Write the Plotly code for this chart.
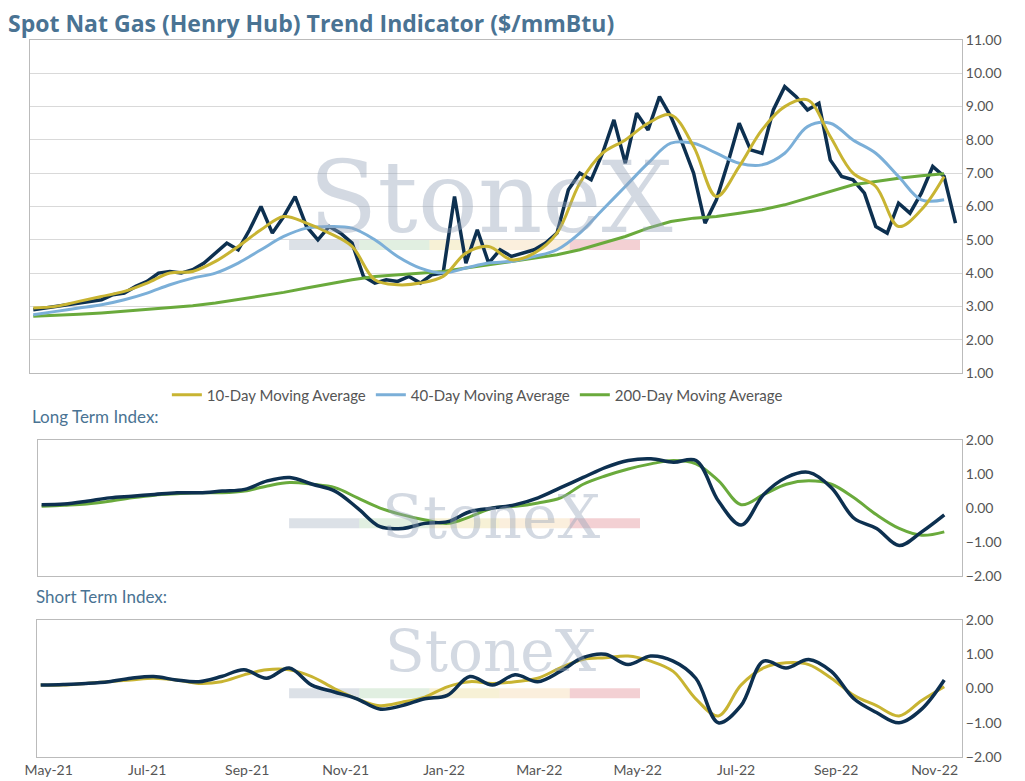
import pandas as pd
import plotly.graph_objects as go

# weekly spot price
spot_dates = pd.date_range("2021-04-26", periods=82, freq="7D")
spot = [2.9, 2.95, 3.0, 3.05, 3.1, 3.15, 3.2, 3.35, 3.4, 3.6, 3.75, 4.0, 4.05, 4.0,
        4.1, 4.3, 4.6, 4.9, 4.7, 5.3, 6.0, 5.2, 5.7, 6.3, 5.4, 5.0, 5.4, 5.2, 4.9,
        3.9, 3.7, 3.8, 3.75, 3.9, 3.7, 3.95, 4.0, 6.3, 4.3, 5.3, 4.3, 4.7, 4.5,
        4.6, 4.7, 4.9, 5.2, 6.5, 7.0, 6.8, 7.6, 8.6, 7.3, 8.8, 8.3, 9.3, 8.7, 7.9,
        7.0, 5.5, 6.2, 7.3, 8.5, 7.7, 7.6, 8.9, 9.6, 9.3, 8.9, 9.1, 7.4, 6.9, 6.8,
        6.4, 5.4, 5.2, 6.1, 5.8, 6.4, 7.2, 6.9, 5.5]

# bi-weekly moving averages and indexes
ma_dates = pd.date_range("2021-04-26", periods=41, freq="14D")
ma10 = [2.95, 3.0, 3.15, 3.3, 3.45, 3.7, 4.0, 4.05, 4.35, 4.8, 5.3, 5.7, 5.5, 5.2,
        4.8, 3.8, 3.65, 3.7, 3.9, 4.6, 4.8, 4.4, 4.6, 5.2, 6.7, 7.6, 8.0, 8.5, 8.75,
        7.8, 6.3, 7.2, 8.3, 9.0, 9.2, 8.1, 7.0, 6.6, 5.4, 5.9, 6.9]
ma40 = [2.75, 2.85, 2.95, 3.05, 3.2, 3.4, 3.65, 3.85, 4.0, 4.3, 4.7, 5.1, 5.35, 5.4,
        5.35, 5.0, 4.5, 4.15, 4.0, 4.15, 4.3, 4.35, 4.5, 4.7, 5.2, 5.9, 6.6, 7.3, 7.9,
        7.9, 7.6, 7.3, 7.25, 7.6, 8.4, 8.5, 8.0, 7.6, 6.9, 6.2, 6.2]
ma200 = [2.7, 2.72, 2.76, 2.8, 2.85, 2.9, 2.96, 3.02, 3.1, 3.2, 3.3, 3.42, 3.55, 3.68,
         3.8, 3.9, 3.95, 4.0, 4.05, 4.15, 4.25, 4.35, 4.45, 4.55, 4.7, 4.9, 5.1, 5.35,
         5.55, 5.65, 5.7, 5.8, 5.9, 6.05, 6.25, 6.45, 6.65, 6.75, 6.85, 6.92, 6.98]
long_idx = [0.1, 0.12, 0.2, 0.3, 0.35, 0.4, 0.45, 0.45, 0.5, 0.55, 0.8, 0.9, 0.7, 0.5,
            0.0, -0.55, -0.6, -0.45, -0.4, -0.1, 0.0, 0.1, 0.3, 0.6, 0.9, 1.2, 1.4,
            1.45, 1.35, 1.4, 0.2, -0.5, 0.4, 0.9, 1.05, 0.6, -0.3, -0.6, -1.1, -0.7, -0.2]
long_sig = [0.05, 0.08, 0.12, 0.2, 0.3, 0.38, 0.42, 0.45, 0.45, 0.5, 0.65, 0.75, 0.7,
            0.6, 0.3, 0.0, -0.2, -0.35, -0.45, -0.25, 0.0, 0.05, 0.15, 0.3, 0.7, 0.95,
            1.15, 1.3, 1.4, 1.3, 0.8, 0.1, 0.4, 0.7, 0.8, 0.7, 0.3, -0.2, -0.6, -0.8, -0.7]
short_idx = [0.1, 0.12, 0.15, 0.2, 0.3, 0.35, 0.25, 0.2, 0.35, 0.55, 0.3, 0.6, 0.1,
             -0.1, -0.3, -0.6, -0.5, -0.3, -0.2, 0.35, 0.1, 0.4, 0.2, 0.5, 0.9, 1.0,
             0.7, 0.95, 0.8, 0.3, -1.0, -0.5, 0.8, 0.6, 0.85, 0.5, -0.3, -0.7, -1.0,
             -0.6, 0.25]
short_sig = [0.1, 0.1, 0.15, 0.2, 0.25, 0.3, 0.25, 0.15, 0.2, 0.4, 0.55, 0.55, 0.35,
             0.0, -0.3, -0.5, -0.4, -0.25, 0.05, 0.2, 0.15, 0.2, 0.3, 0.6, 0.85, 0.9,
             0.95, 0.8, 0.5, -0.3, -0.8, 0.1, 0.6, 0.75, 0.7, 0.3, -0.2, -0.5, -0.8,
             -0.35, 0.05]

NAVY = "#0d3050"
GOLD = "#c8b432"
BLUE = "#7bafd8"
GREEN = "#6aaa3c"
GRAY = "#555555"
TITLE = "#4a7393"

fig = go.Figure()

# StoneX watermarks (drawn first so lines sit on top)
for yc, size, bar_y in [(0.865, 100, 0.714), (0.335, 60, 0.326), (0.098, 58, 0.089)]:
    fig.add_annotation(text="StoneX", xref="paper", yref="paper", x=0.495, y=yc,
                       showarrow=False, font=dict(family="DejaVu Serif", size=size,
                                                  color="rgba(150,165,185,0.42)"))
    for i, c in enumerate(["rgba(140,155,175,0.3)", "rgba(120,180,120,0.22)",
                           "rgba(230,210,120,0.3)", "rgba(240,190,120,0.25)",
                           "rgba(220,120,130,0.35)"]):
        fig.add_shape(type="rect", xref="paper", yref="paper",
                      x0=0.278 + i * 0.0753, x1=0.278 + (i + 1) * 0.0753,
                      y0=bar_y - 0.007, y1=bar_y + 0.007, line_width=0, fillcolor=c,
                      layer="below")

fig.add_trace(go.Scatter(x=spot_dates, y=spot, mode="lines", line=dict(color=NAVY, width=3.5),
                         showlegend=False))
fig.add_trace(go.Scatter(x=ma_dates, y=ma200, mode="lines", line=dict(color=GREEN, width=3),
                         name="200-Day Moving Average", legendrank=3))
fig.add_trace(go.Scatter(x=ma_dates, y=ma40, mode="lines", line=dict(color=BLUE, width=3, shape="spline"),
                         name="40-Day Moving Average", legendrank=2))
fig.add_trace(go.Scatter(x=ma_dates, y=ma10, mode="lines", line=dict(color=GOLD, width=3, shape="spline"),
                         name="10-Day Moving Average", legendrank=1))

fig.add_trace(go.Scatter(x=ma_dates, y=long_sig, mode="lines", line=dict(color=GREEN, width=3, shape="spline"),
                         xaxis="x2", yaxis="y2", showlegend=False))
fig.add_trace(go.Scatter(x=ma_dates, y=long_idx, mode="lines", line=dict(color=NAVY, width=3.5, shape="spline"),
                         xaxis="x2", yaxis="y2", showlegend=False))
fig.add_trace(go.Scatter(x=ma_dates, y=short_sig, mode="lines", line=dict(color=GOLD, width=3, shape="spline"),
                         xaxis="x3", yaxis="y3", showlegend=False))
fig.add_trace(go.Scatter(x=ma_dates, y=short_idx, mode="lines", line=dict(color=NAVY, width=3.5, shape="spline"),
                         xaxis="x3", yaxis="y3", showlegend=False))

xrange = ["2021-04-24", "2022-11-18"]
tickvals = pd.date_range("2021-05-01", "2022-11-01", freq="2MS")
common_x = dict(range=xrange, tickvals=tickvals, tickformat="%b-%y", showgrid=False,
                showline=True, linecolor="#bbbbbb", mirror=True, ticks="", automargin=False,
                tickfont=dict(size=14, color=GRAY))
common_y = dict(side="right", showline=True, linecolor="#bbbbbb", mirror=True, automargin=False,
                tickformat=".2f", tickfont=dict(size=14, color=GRAY), zeroline=False)

fig.update_layout(
    width=1017, height=773,
    font=dict(family="Lato"),
    paper_bgcolor="white", plot_bgcolor="white",
    margin=dict(l=22, r=63, t=32, b=24),
    title=dict(text="<b>Spot Nat Gas (Henry Hub) Trend Indicator ($/mmBtu)</b>",
               x=0.0, xanchor="left", y=0.99, yanchor="top",
               font=dict(size=23, color=TITLE, family="Open Sans")),
    xaxis=dict(common_x, domain=[0, 1], showticklabels=False, anchor="y"),
    yaxis=dict(common_y, domain=[0.5356, 1], range=[1, 11], dtick=1,
               gridcolor="#d9d9d9", showgrid=True),
    xaxis2=dict(common_x, domain=[0.009, 1], showticklabels=False, anchor="y2", matches="x"),
    yaxis2=dict(common_y, domain=[0.2524, 0.442], range=[-2, 2], dtick=1, showgrid=False,
                anchor="x2"),
    xaxis3=dict(common_x, domain=[0.008, 1], anchor="y3", matches="x"),
    yaxis3=dict(common_y, domain=[0, 0.191], range=[-2, 2], dtick=1, showgrid=False,
                anchor="x3"),
    legend=dict(orientation="h", x=0.48, xanchor="center", y=0.505, yanchor="middle",
                font=dict(size=15, color=GRAY), traceorder="normal"),
    annotations=list(fig.layout.annotations) + [
        dict(text="Long Term Index:", xref="paper", yref="paper", x=0.0, y=0.457,
             xanchor="left", yanchor="bottom", showarrow=False,
             font=dict(size=17, color=TITLE)),
        dict(text="Short Term Index:", xref="paper", yref="paper", x=0.004, y=0.207,
             xanchor="left", yanchor="bottom", showarrow=False,
             font=dict(size=17, color=TITLE)),
    ],
)

fig.write_html("out.html")
